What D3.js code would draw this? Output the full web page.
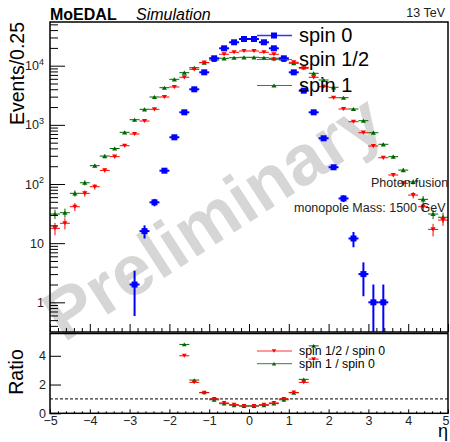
<!DOCTYPE html>
<html><head><meta charset="utf-8">
<script src="https://cdn.jsdelivr.net/npm/d3@7"></script>
<style>
body{margin:0;background:#fff}
svg{display:block}
text{font-family:"Liberation Sans",Arial,Helvetica,sans-serif}
</style>
</head><body>
<svg id="c" width="450" height="442"></svg>
<script>
// ---------------- data ----------------
const etaCenters = [-4.875,-4.625,-4.375,-4.125,-3.875,-3.625,-3.375,-3.125,-2.875,-2.625,
  -2.375,-2.125,-1.875,-1.625,-1.375,-1.125,-0.875,-0.625,-0.375,-0.125,
  0.125,0.375,0.625,0.875,1.125,1.375,1.625,1.875,2.125,2.375,
  2.625,2.875,3.125,3.375,3.625,3.875,4.125,4.375,4.625,4.875];
const binHalfWidth = 0.125;
const spin0 = [0,0,0,0,0,0,0,0,2,16,49,168,616,1630,3990,7730,13340,19680,24880,28270,
  28270,24880,19680,13340,7730,3780,1630,593,192,57,12,3,1,1,0,0,0,0,0,0];
const spinHalf = [17.8,21.7,41.3,69.6,90,170,290,444,700,1162,1832,2957,4365,6368,8690,11330,13340,15590,16860,17730,
  17730,16860,15590,13340,11410,9040,6368,4415,2877,1853,1130,737,439,278,142,103,65,41.3,17.1,24.6];
const spinOne = [31.1,32.7,69.6,105,204,297,398,748,1222,1832,2957,4246,5890,7620,9250,11240,12480,13340,13650,13870,
  13870,13650,13340,12480,10990,9330,7440,5730,4315,2877,1853,1175,737,469,290,172,109,55,31.1,27.4];
const ratioEta = [-1.625,-1.375,-1.125,-0.875,-0.625,-0.375,-0.125,0.125,0.375,0.625,0.875,1.125,1.375,1.625];
const ratioHalf = [4.0,2.15,1.43,1.0,0.72,0.6,0.52,0.52,0.6,0.72,1.0,1.45,2.15,3.77];
const ratioOne  = [4.79,2.31,1.45,0.94,0.67,0.56,0.5,0.5,0.56,0.67,0.94,1.43,2.36,4.69];
const xMajorTicks = [-5,-4,-3,-2,-1,0,1,2,3,4,5];
const yMajorTicks = [1,10,100,1000,10000];
const yTickLabels = [["1",""],["10",""],["10","2"],["10","3"],["10","4"]];
const ratioTicks = [0,2,4];
const legendTop = ["spin 0","spin 1/2","spin 1"];
const legendRatio = ["spin 1/2 / spin 0","spin 1 / spin 0"];

// ---------------- layout ----------------
const X0=50, X1=448, TY0=22, TY1=332, RY0=333.5, RY1=413.3;
const BLUE="#0000ff", RED="#ff0000", GREEN="#006600";
const svg = d3.select("#c");
const x  = d3.scaleLinear().domain([-5,5]).range([X0,X1]);
const y  = d3.scaleLog().domain([0.315,54800]).range([TY1,TY0]);
const yr = d3.scaleLinear().domain([0,5.55]).range([RY1,RY0]);

const defs = svg.append("defs");
defs.append("clipPath").attr("id","cpTop").append("rect")
  .attr("x",X0).attr("y",TY0).attr("width",X1-X0).attr("height",TY1-TY0);
defs.append("clipPath").attr("id","cpRat").append("rect")
  .attr("x",X0).attr("y",RY0).attr("width",X1-X0).attr("height",RY1-RY0);

// watermark
svg.append("text").attr("transform","translate(64,343) rotate(-33)")
  .attr("font-size",71).attr("font-weight","bold").attr("fill","#d6d6d6")
  .text("Preliminary");

// ---------------- top panel data ----------------
const gTop = svg.append("g").attr("clip-path","url(#cpTop)");
function markerPath(kind, cx, cy, s){
  if(kind==="down") return `M${cx-s},${cy-s*0.8}L${cx+s},${cy-s*0.8}L${cx},${cy+s*0.8}Z`;
  if(kind==="up") return `M${cx-s},${cy+s*0.8}L${cx+s},${cy+s*0.8}L${cx},${cy-s*0.8}Z`;
  return `M${cx-s},${cy-s}H${cx+s}V${cy+s}H${cx-s}Z`;
}
function drawSeries(vals, color, kind, lw, ms){
  const g = gTop.append("g");
  etaCenters.forEach((e,i)=>{
    const v = vals[i]; if(!(v>0)) return;
    const err = Math.sqrt(v);
    const lo = v-err > 0 ? y(v-err) : TY1+5;
    const cy = y(v);
    g.append("line").attr("x1",x(e-binHalfWidth)).attr("x2",x(e+binHalfWidth))
      .attr("y1",cy).attr("y2",cy).attr("stroke",color).attr("stroke-width",lw);
    g.append("line").attr("x1",x(e)).attr("x2",x(e)).attr("y1",y(v+err)).attr("y2",lo)
      .attr("stroke",color).attr("stroke-width",lw);
    g.append("path").attr("d",markerPath(kind,x(e),cy,ms)).attr("fill",color);
  });
}
drawSeries(spinOne, GREEN, "up", 1, 2.6);
drawSeries(spinHalf, RED, "down", 1, 2.6);
drawSeries(spin0, BLUE, "sq", 2, 3);

// legend (top)
const lgY = [35.5, 59.5, 85.5];
const lgCol = [BLUE, RED, GREEN], lgKind = ["sq","down","up"];
legendTop.forEach((t,i)=>{
  svg.append("line").attr("x1",257).attr("x2",292).attr("y1",lgY[i]).attr("y2",lgY[i])
    .attr("stroke",lgCol[i]).attr("stroke-width",i===0?1.5:1).attr("opacity",0.8);
  svg.append("path").attr("d",markerPath(lgKind[i],274,lgY[i],i===0?3:2.6)).attr("fill",lgCol[i]);
  svg.append("text").attr("x",299).attr("y",lgY[i]+6.2).attr("font-size",20).attr("fill","#000").text(t);
});

// top frame + axes
svg.append("rect").attr("x",X0).attr("y",TY0).attr("width",X1-X0).attr("height",TY1-TY0)
  .attr("fill","none").attr("stroke","#000").attr("stroke-width",1.5);

const xMinor = d3.range(-50,51,2).map(d=>d/10).filter(d=>xMajorTicks.indexOf(d)<0);
const axTopMaj = d3.axisBottom(x).tickValues(xMajorTicks).tickSizeInner(-8).tickSizeOuter(0).tickFormat("");
const axTopMin = d3.axisBottom(x).tickValues(xMinor).tickSizeInner(-4).tickSizeOuter(0).tickFormat("");
[axTopMaj, axTopMin].forEach(a=>{
  const g = svg.append("g").attr("transform",`translate(0,${TY1})`).call(a);
  g.select(".domain").remove(); g.selectAll("line").attr("stroke","#000");
});

const yMinor = [];
for(let d=-1; d<=4; d++) for(let k=2;k<=9;k++){ const v=k*Math.pow(10,d); if(v>0.315&&v<54800) yMinor.push(v); }
const axYMaj = d3.axisLeft(y).tickValues(yMajorTicks).tickSizeInner(-15).tickSizeOuter(0).tickFormat("");
const axYMin = d3.axisLeft(y).tickValues(yMinor).tickSizeInner(-8).tickSizeOuter(0).tickFormat("");
[axYMaj, axYMin].forEach(a=>{
  const g = svg.append("g").attr("transform",`translate(${X0},0)`).call(a);
  g.select(".domain").remove(); g.selectAll("line").attr("stroke","#000");
});
yMajorTicks.forEach((v,i)=>{
  const [base,sup] = yTickLabels[i];
  const t = svg.append("text").attr("x",44).attr("y",y(v)+4.5).attr("text-anchor","end")
    .attr("font-size",12.5).attr("fill","#222");
  t.append("tspan").text(base);
  if(sup) t.append("tspan").attr("font-size",9).attr("dy",-5.5).text(sup);
});

svg.append("text").attr("transform",`translate(24,${TY0}) rotate(-90)`).attr("text-anchor","end")
  .attr("font-size",19.5).text("Events/0.25");

// header texts
svg.append("text").attr("x",50).attr("y",20).attr("font-size",16).attr("font-weight","bold").text("MoEDAL");
svg.append("text").attr("x",136).attr("y",20).attr("font-size",16).attr("font-style","italic").text("Simulation");
svg.append("text").attr("x",445).attr("y",16.5).attr("font-size",12.5).attr("text-anchor","end").attr("fill","#222").text("13 TeV");
svg.append("text").attr("x",371).attr("y",186.5).attr("font-size",12.5).attr("fill","#222").text("Photon-fusion");
svg.append("text").attr("x",294).attr("y",212.3).attr("font-size",12.5).attr("fill","#222").text("monopole Mass: 1500 GeV");

// ---------------- ratio panel ----------------
const gR = svg.append("g").attr("clip-path","url(#cpRat)");
gR.append("line").attr("x1",X0).attr("x2",X1).attr("y1",yr(1)).attr("y2",yr(1))
  .attr("stroke","#000").attr("stroke-width",1).attr("stroke-dasharray","3,2");
function drawRatio(vals,color,kind){
  ratioEta.forEach((e,i)=>{
    const v=vals[i]; if(v==null) return;
    gR.append("line").attr("x1",x(e-binHalfWidth)).attr("x2",x(e+binHalfWidth))
      .attr("y1",yr(v)).attr("y2",yr(v)).attr("stroke",color).attr("stroke-width",1);
    gR.append("path").attr("d",markerPath(kind,x(e),yr(v),2.4)).attr("fill",color);
  });
}
drawRatio(ratioOne, GREEN, "up");
drawRatio(ratioHalf, RED, "down");

const lrY=[351,363.7], lrCol=[RED,GREEN], lrKind=["down","up"];
legendRatio.forEach((t,i)=>{
  svg.append("line").attr("x1",257).attr("x2",292).attr("y1",lrY[i]).attr("y2",lrY[i])
    .attr("stroke",lrCol[i]).attr("stroke-width",1).attr("opacity",0.8);
  svg.append("path").attr("d",markerPath(lrKind[i],274,lrY[i],2.2)).attr("fill",lrCol[i]);
  svg.append("text").attr("x",299).attr("y",lrY[i]+4).attr("font-size",12.3).attr("fill","#000").text(t);
});

svg.append("rect").attr("x",X0).attr("y",RY0).attr("width",X1-X0).attr("height",RY1-RY0)
  .attr("fill","none").attr("stroke","#000").attr("stroke-width",1.5);

const axRMaj = d3.axisBottom(x).tickValues(xMajorTicks).tickSizeInner(-4).tickSizeOuter(0).tickPadding(3.3);
const axRMin = d3.axisBottom(x).tickValues(xMinor).tickSizeInner(-2).tickSizeOuter(0).tickFormat("");
[axRMaj, axRMin].forEach(a=>{
  const g = svg.append("g").attr("transform",`translate(0,${RY1})`).call(a);
  g.select(".domain").remove(); g.selectAll("line").attr("stroke","#000");
  g.selectAll("text").attr("font-size",12.5).attr("fill","#222").attr("font-family","Liberation Sans, Arial, sans-serif");
  g.selectAll(".tick").filter(d=>d===5).select("text").attr("dx",-2.5);
});
const axRY = d3.axisLeft(yr).tickValues(ratioTicks).tickSizeInner(-11).tickSizeOuter(0).tickPadding(4).tickFormat(d3.format("d"));
{
  const g = svg.append("g").attr("transform",`translate(${X0},0)`).call(axRY);
  g.select(".domain").remove(); g.selectAll("line").attr("stroke","#000");
  g.selectAll("text").attr("font-size",12.5).attr("fill","#222").attr("font-family","Liberation Sans, Arial, sans-serif");
}
svg.append("text").attr("transform",`translate(23,372) rotate(-90)`).attr("text-anchor","middle")
  .attr("font-size",19.5).text("Ratio");
svg.append("text").attr("x",448).attr("y",437).attr("text-anchor","end").attr("font-size",18).text("η");
</script>
</body></html>
